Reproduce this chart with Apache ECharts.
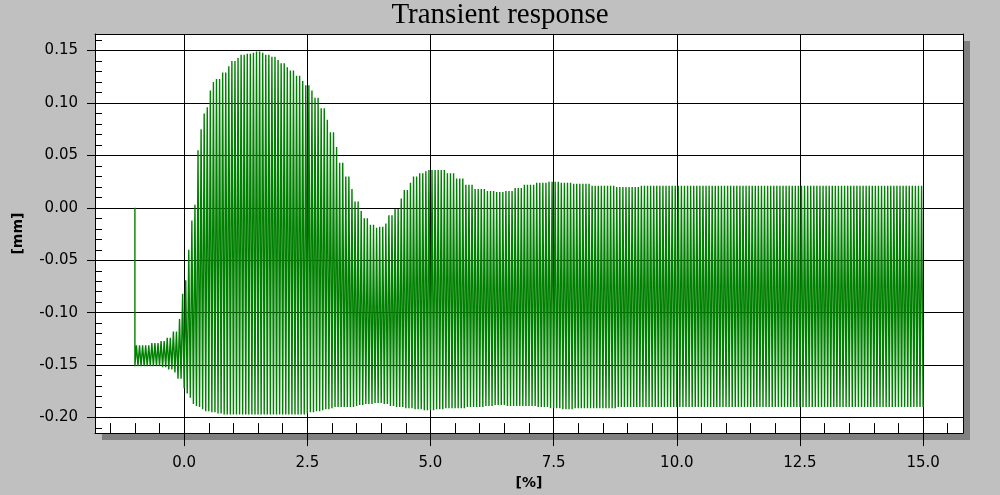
<!DOCTYPE html>
<html>
<head>
<meta charset="utf-8">
<script src="https://cdn.jsdelivr.net/npm/echarts@6/dist/echarts.min.js"></script>
<style>
html,body{margin:0;padding:0;background:#c0c0c0;}
#chart{width:1000px;height:495px;}
</style>
</head>
<body>
<div id="chart"></div>
<script>
// ---- data ----
const titleText = 'Transient response';
const xName = '[%]';
const yName = '[mm]';

// envelope knots of the oscillating response (x in %, values in mm)
const envX = [-1.0,-0.8,-0.6,-0.4,-0.3,-0.2,-0.1,0.0,0.05,0.1,0.15,0.2,0.25,0.3,0.35,0.4,0.45,0.5,0.55,0.6,
  0.7,0.8,0.9,1.0,1.1,1.2,1.3,1.4,1.5,1.6,1.7,1.8,1.9,2.0,2.1,2.2,2.3,2.4,2.5,2.6,2.7,2.8,2.9,3.0,
  3.1,3.2,3.3,3.4,3.5,3.6,3.7,3.8,3.9,4.0,4.1,4.2,4.3,4.4,4.5,4.6,4.7,4.8,4.9,5.0,5.2,5.4,5.6,5.8,
  6.0,6.2,6.4,6.6,6.8,7.0,7.25,7.5,7.75,8.0,8.5,9.0,9.5,10.0,11.0,12.0,13.0,14.0,15.0];
const envUpper = [-0.131,-0.131,-0.129,-0.127,-0.124,-0.118,-0.106,-0.082,-0.069,-0.040,-0.012,0.003,0.020,0.055,0.075,0.090,0.096,0.102,0.112,0.120,
  0.123,0.129,0.135,0.140,0.143,0.146,0.147,0.148,0.149,0.148,0.146,0.144,0.141,0.138,0.134,0.131,0.126,0.121,0.117,0.112,0.105,0.095,0.084,0.072,
  0.058,0.043,0.030,0.018,0.006,-0.003,-0.010,-0.016,-0.019,-0.018,-0.015,-0.007,-0.001,0.009,0.017,0.024,0.030,0.033,0.035,0.036,0.036,0.033,0.028,0.022,
  0.018,0.016,0.015,0.016,0.019,0.022,0.024,0.025,0.024,0.023,0.021,0.020,0.021,0.021,0.021,0.021,0.021,0.021,0.021];
const envLower = [-0.151,-0.151,-0.151,-0.152,-0.154,-0.157,-0.163,-0.172,-0.177,-0.181,-0.184,-0.187,-0.189,-0.190,-0.192,-0.193,-0.194,-0.194,-0.195,-0.195,
  -0.196,-0.197,-0.197,-0.197,-0.197,-0.197,-0.197,-0.197,-0.197,-0.197,-0.197,-0.197,-0.197,-0.197,-0.197,-0.197,-0.197,-0.197,-0.196,-0.195,-0.194,-0.193,-0.192,-0.191,
  -0.190,-0.190,-0.190,-0.190,-0.189,-0.188,-0.187,-0.187,-0.186,-0.186,-0.187,-0.189,-0.190,-0.190,-0.191,-0.191,-0.192,-0.192,-0.193,-0.193,-0.192,-0.191,-0.191,-0.190,
  -0.190,-0.189,-0.188,-0.189,-0.189,-0.189,-0.190,-0.191,-0.192,-0.191,-0.191,-0.190,-0.190,-0.190,-0.190,-0.190,-0.190,-0.190,-0.190];
const startValue = 0.0;        // initial value at x = -1
const cyclesPerUnit = 16;      // oscillation strokes per 1 %
const xStart = -1, xEnd = 15;

// tick labels
const xMajorTicks = [0, 2.5, 5, 7.5, 10, 12.5, 15];
const xMinorTicks = [-1.5,-1,-0.5,0.5,1,1.5,2,3,3.5,4,4.5,5.5,6,6.5,7,8,8.5,9,9.5,10.5,11,11.5,12,13,13.5,14,14.5,15.5];
const yMajorTicks = [-0.20,-0.15,-0.10,-0.05,0.00,0.05,0.10,0.15];
const yMinorTicks = [-0.21,-0.19,-0.18,-0.17,-0.16,-0.14,-0.13,-0.12,-0.11,-0.09,-0.08,-0.07,-0.06,-0.04,-0.03,-0.02,-0.01,
  0.01,0.02,0.03,0.04,0.06,0.07,0.08,0.09,0.11,0.12,0.13,0.14,0.16];

// ---- build the trace from the envelope knots ----
function nearestKnot(x){
  let best = 0, bd = Infinity;
  for (let i = 0; i < envX.length; i++){ const d = Math.abs(envX[i]-x); if (d < bd){bd = d; best = i;} }
  return best;
}
const trace = [[xStart, startValue], [xStart, envLower[0]]];
const nCycles = Math.round((xEnd - xStart) * cyclesPerUnit);
for (let k = 0; k < nCycles; k++){
  const xm = xStart + (k + 0.5) / cyclesPerUnit;
  const xe = xStart + (k + 1) / cyclesPerUnit;
  trace.push([xm, envUpper[nearestKnot(xm)]]);
  trace.push([xe, envLower[nearestKnot(xe)]]);
}

const FONT = 'DejaVu Sans';
const xMin = -1.81, xMax = 15.81, yMin = -0.2148, yMax = 0.1658;
const BLACK = {color: '#000', width: 1};
const noAxisLine = {show: false, onZero: false};
const frameLine = {show: true, onZero: false, lineStyle: BLACK};

const chart = echarts.init(document.getElementById('chart'), null, {renderer:'canvas'});
chart.setOption({
  animation: false,
  backgroundColor: '#c0c0c0',
  title: {
    text: titleText, left: 'center', top: -4,
    textStyle: {fontFamily: 'Liberation Serif', fontSize: 29, fontWeight: 'normal', color: '#000'}
  },
  grid: {
    left: 95, top: 34, width: 868, height: 400,
    show: true, backgroundColor: '#ffffff', borderWidth: 0, borderColor: 'transparent',
    shadowColor: '#808080', shadowBlur: 0, shadowOffsetX: 7, shadowOffsetY: 7
  },
  xAxis: [{
    type: 'value', min: xMin, max: xMax, position: 'bottom',
    name: xName, nameLocation: 'middle', nameGap: 40,
    nameTextStyle: {fontFamily: FONT, fontSize: 14, fontWeight: 'bold', color: '#000'},
    axisLine: frameLine,
    axisTick: {show: true, inside: false, length: 13, customValues: xMajorTicks, lineStyle: BLACK},
    axisLabel: {show: true, customValues: xMajorTicks, margin: 23, formatter: v => v.toFixed(1),
      fontFamily: FONT, fontSize: 15, color: '#000'},
    splitLine: {show: true, lineStyle: BLACK}
  },{
    type: 'value', min: xMin, max: xMax, position: 'bottom',
    axisLine: noAxisLine,
    axisTick: {show: true, inside: true, length: 10, customValues: xMinorTicks, lineStyle: BLACK},
    axisLabel: {show: false},
    splitLine: {show: false}
  },{
    type: 'value', min: xMin, max: xMax, position: 'top',
    axisLine: frameLine, axisTick: {show: false}, axisLabel: {show: false}, splitLine: {show: false}
  }],
  yAxis: [{
    type: 'value', min: yMin, max: yMax, position: 'left',
    name: yName, nameLocation: 'middle', nameGap: 70, nameRotate: 90,
    nameTextStyle: {fontFamily: FONT, fontSize: 14, fontWeight: 'bold', color: '#000'},
    axisLine: frameLine,
    axisTick: {show: true, inside: false, length: 8, customValues: yMajorTicks, lineStyle: BLACK},
    axisLabel: {show: true, customValues: yMajorTicks, margin: 17,
      formatter: v => (Math.abs(v) < 1e-9 ? 0 : v).toFixed(2),
      fontFamily: FONT, fontSize: 15, color: '#000'},
    splitLine: {show: true, lineStyle: BLACK}
  },{
    type: 'value', min: yMin, max: yMax, position: 'left',
    axisLine: noAxisLine,
    axisTick: {show: true, inside: true, length: 7, customValues: yMinorTicks, lineStyle: BLACK},
    axisLabel: {show: false},
    splitLine: {show: false}
  },{
    type: 'value', min: yMin, max: yMax, position: 'right',
    axisLine: frameLine, axisTick: {show: false}, axisLabel: {show: false}, splitLine: {show: false}
  }],
  series: [{
    type: 'line', xAxisIndex: 0, yAxisIndex: 0,
    data: trace, showSymbol: false, symbol: 'none', sampling: null,
    lineStyle: {color: '#008000', width: 1.4}, silent: true, z: 3
  }]
});
</script>
</body>
</html>
